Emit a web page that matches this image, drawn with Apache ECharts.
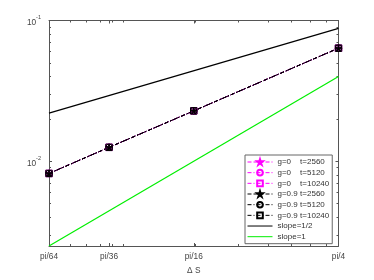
<!DOCTYPE html>
<html><head><meta charset="utf-8">
<script src="https://cdn.jsdelivr.net/npm/echarts@6/dist/echarts.min.js"></script>
<style>html,body{margin:0;padding:0;background:#fff}#c{width:374px;height:280px}</style>
</head><body><div id="c"></div>
<script>
// ---- data ----
var dsValues = [Math.PI/64, Math.PI/36, Math.PI/16, Math.PI/4];
var dsLabels = ['pi/64', 'pi/36', 'pi/16', 'pi/4'];
var g0_t2560  = [0.00819, 0.01256, 0.0228, 0.0636];
var g0_t5120  = [0.00819, 0.01256, 0.0228, 0.0636];
var g0_t10240 = [0.00819, 0.01256, 0.0228, 0.0636];
var g9_t2560  = [0.00819, 0.01256, 0.0228, 0.0636];
var g9_t5120  = [0.00819, 0.01256, 0.0228, 0.0636];
var g9_t10240 = [0.00819, 0.01256, 0.0228, 0.0636];
var slopeHalfX = [Math.PI/64, Math.PI/4];
var slopeHalf  = [0.022, 0.088];
var slopeOneX  = [Math.PI/64, Math.PI/4];
var slopeOne   = [0.0025, 0.04];
var yMajorTicks = [0.01, 0.1];
var yMajorLabels = ['10^-2', '10^-1'];
var yMinorTicks = [0.003,0.004,0.005,0.006,0.007,0.008,0.009,0.02,0.03,0.04,0.05,0.06,0.07,0.08,0.09];
var xMinorTicks = [0.06,0.07,0.08,0.09,0.1,0.2,0.3,0.4,0.5,0.6,0.7];
var xMin = Math.PI/64, xMax = Math.PI/4, yMin = 0.0025, yMax = 0.1;

function pairs(xs, ys){ return xs.map(function(x,i){ return [x, ys[i]]; }); }
// keep tick values a hair inside the axis extent so edge labels are not dropped by float rounding
function inside(vals, lo, hi){ return vals.map(function(v){ return Math.min(Math.max(v, lo*(1+1e-9)), hi*(1-1e-9)); }); }
function nearestLabel(v, vals, labs){
  var best=0, bd=Infinity;
  for (var i=0;i<vals.length;i++){ var d=Math.abs(Math.log(v)-Math.log(vals[i])); if(d<bd){bd=d;best=i;} }
  return labs[best];
}
var AX = '#555';
var FONT = 'Liberation Sans, Arial, sans-serif';
function xAx(pos, ticks, len, showLabel, showLine){
  return {type:'log', logBase:10, min:xMin, max:xMax, position:pos, gridIndex:0,
    axisLine:{show:showLine, onZero:false, lineStyle:{color:AX, width:1}},
    axisTick:{show:true, inside:true, length:len, customValues:inside(ticks, xMin, xMax), lineStyle:{color:AX, width:1}},
    axisLabel:{show:showLabel, customValues: showLabel ? inside(dsValues, xMin, xMax) : undefined, margin:6.5, color:'#444', fontSize:8.3, fontFamily:FONT,
      formatter:function(v){ return nearestLabel(v, dsValues, dsLabels); }},
    splitLine:{show:false}, minorTick:{show:false}};
}
function yAx(pos, ticks, len, showLabel, showLine){
  return {type:'log', logBase:10, min:yMin, max:yMax, position:pos, gridIndex:0,
    axisLine:{show:showLine, onZero:false, lineStyle:{color:AX, width:1}},
    axisTick:{show:true, inside:true, length:len, customValues:inside(ticks, yMin, yMax), lineStyle:{color:AX, width:1}},
    axisLabel:{show:showLabel, customValues: showLabel ? inside(yMajorTicks, yMin, yMax) : undefined, margin:8, color:'#444', fontFamily:FONT,
      formatter:function(v){ var s=nearestLabel(v, yMajorTicks, yMajorLabels).split('^'); return '{b|'+s[0]+'}{s|'+s[1]+'}'; },
      rich:{b:{fontSize:8.3, fontFamily:FONT, color:'#444', verticalAlign:'bottom', lineHeight:12},
            s:{fontSize:5.5, fontFamily:FONT, color:'#444', verticalAlign:'top', lineHeight:12}}},
    splitLine:{show:false}, minorTick:{show:false}};
}
var MAG = '#ff00ff', BLK = '#000000', GRN = '#00ee00';
var STAR = 'path://M50,0 L61,35 L98,35 L68,57 L79,91 L50,70 L21,91 L32,57 L2,35 L39,35 Z';
function dataSeries(name, ys, color, sym, dash, filled){
  return {name:name, type:'line', xAxisIndex:0, yAxisIndex:0, data:pairs(dsValues, ys),
    symbol:sym, symbolSize:6.5, showSymbol:true,
    lineStyle:{color:color, width:1, type:dash},
    itemStyle:{color: filled ? color : 'rgba(255,255,255,0)', borderColor:color, borderWidth:1},
    emphasis:{disabled:true}, animation:false, z:3};
}
var dashA = [4,2];
var dashB = [4,2,1,2];
var series = [
  dataSeries('g=0 t=2560',  g0_t2560,  MAG, STAR, dashA, true),
  dataSeries('g=0 t=5120',  g0_t5120,  MAG, 'circle', dashB, false),
  dataSeries('g=0 t=10240', g0_t10240, MAG, 'rect', dashB, false),
  dataSeries('g=0.9 t=2560',  g9_t2560,  BLK, STAR, dashA, true),
  dataSeries('g=0.9 t=5120',  g9_t5120,  BLK, 'circle', dashB, false),
  dataSeries('g=0.9 t=10240', g9_t10240, BLK, 'rect', dashB, false),
  {name:'slope=1/2', type:'line', data:pairs(slopeHalfX, slopeHalf), symbol:'circle', showSymbol:false, lineStyle:{color:BLK, width:1.2}, itemStyle:{color:'rgba(0,0,0,0)', borderWidth:0}, animation:false, emphasis:{disabled:true}},
  {name:'slope=1', type:'line', data:pairs(slopeOneX, slopeOne), symbol:'circle', showSymbol:false, lineStyle:{color:GRN, width:1.2}, itemStyle:{color:'rgba(0,0,0,0)', borderWidth:0}, animation:false, emphasis:{disabled:true}}
];
var chart = echarts.init(document.getElementById('c'), null, {renderer:'canvas'});
var xa0 = xAx('bottom', dsValues, 3, true, true);
xa0.name = 'Δ S'; xa0.nameLocation='middle'; xa0.nameGap=21;
xa0.nameTextStyle = {color:'#444', fontSize:8.3, fontFamily:FONT};
chart.setOption({
  animation:false,
  backgroundColor:'#fff',
  grid:{left:49, right:35.5, top:20.5, bottom:31, containLabel:false},
  xAxis:[xa0, xAx('bottom', xMinorTicks, 2, false, false), xAx('top', dsValues, 3, false, true), xAx('top', xMinorTicks, 2, false, false)],
  yAxis:[yAx('left', yMajorTicks, 3, true, true), yAx('left', yMinorTicks, 2, false, false), yAx('right', yMajorTicks, 3, false, true), yAx('right', yMinorTicks, 2, false, false)],
  legend:{orient:'vertical', left:245, top:155, padding:[3,3,3,2], itemGap:2.67, itemWidth:25, itemHeight:7,
    backgroundColor:'#fff', borderColor:'#666', borderWidth:1, borderRadius:0,
    lineStyle:{width:1},
    data:series.map(function(s){return s.name;}),
    textStyle:{fontSize:8, fontFamily:FONT, color:'#333', lineHeight:8,
      rich:{a:{width:22.6, fontSize:8, fontFamily:FONT, color:'#333'}, b:{fontSize:8, fontFamily:FONT, color:'#333'}}},
    formatter:function(n){ if(n.indexOf('g=')===0){ var p=n.split(' '); return '{a|'+p[0]+'}{b|'+p[1]+'}'; } return n; }
  },
  series:series
});
</script></body></html>
